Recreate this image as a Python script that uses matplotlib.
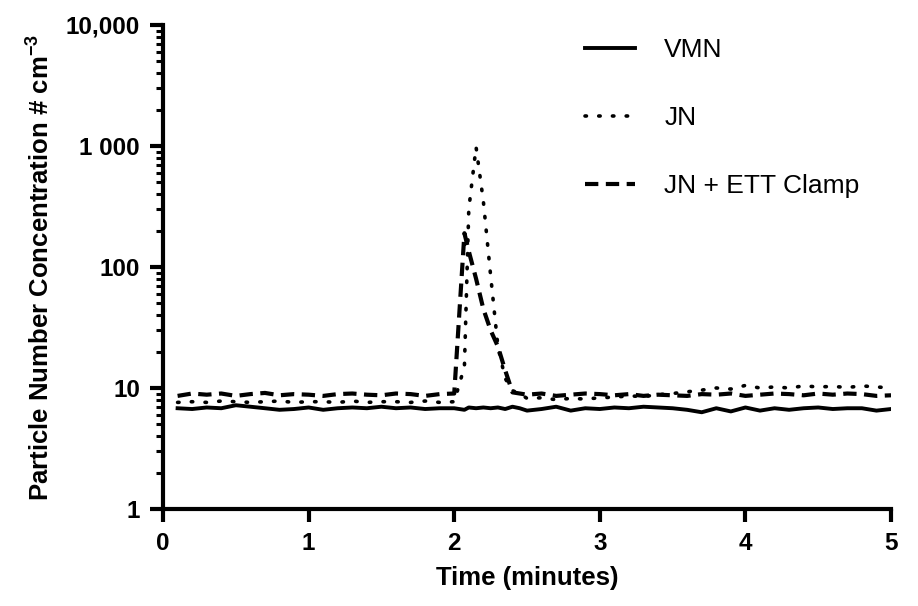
import matplotlib
matplotlib.use("Agg")
import matplotlib.pyplot as plt
from matplotlib.ticker import FixedLocator, NullFormatter

plt.rcParams['font.family'] = ['Liberation Sans', 'DejaVu Sans']
plt.rcParams['mathtext.fontset'] = 'custom'
plt.rcParams['mathtext.rm'] = 'Liberation Sans:bold'
plt.rcParams['mathtext.default'] = 'rm'

# time points (minutes)
time = [0.1, 0.2, 0.3, 0.4, 0.5, 0.6, 0.7, 0.8, 0.9, 1.0,
        1.1, 1.2, 1.3, 1.4, 1.5, 1.6, 1.7, 1.8, 1.9, 2.0,
        2.07, 2.1, 2.15, 2.2, 2.25, 2.3, 2.35, 2.4, 2.45, 2.5,
        2.6, 2.7, 2.8, 2.9, 3.0, 3.1, 3.2, 3.3, 3.4, 3.5,
        3.6, 3.7, 3.8, 3.9, 4.0, 4.1, 4.2, 4.3, 4.4, 4.5,
        4.6, 4.7, 4.8, 4.9, 5.0]

vmn = [6.8, 6.7, 6.9, 6.8, 7.2, 7.0, 6.8, 6.6, 6.7, 6.9,
       6.6, 6.8, 6.9, 6.8, 7.0, 6.8, 6.9, 6.7, 6.8, 6.8,
       6.6, 6.9, 6.8, 6.9, 6.8, 6.9, 6.7, 7.0, 6.8, 6.5,
       6.7, 7.0, 6.5, 6.8, 6.7, 6.9, 6.8, 7.0, 6.9, 6.8,
       6.6, 6.3, 6.8, 6.4, 6.9, 6.5, 6.8, 6.6, 6.8, 6.9,
       6.7, 6.8, 6.8, 6.5, 6.7]

jn = [7.6, 7.7, 7.6, 7.8, 7.7, 7.6, 7.7, 7.8, 7.6, 7.7,
      7.7, 7.6, 7.8, 7.6, 7.7, 7.7, 7.6, 7.8, 7.6, 7.7,
      15, 300, 980, 350, 85, 22, 12, 9.5, 9.0, 8.2,
      8.3, 8.0, 8.2, 8.1, 8.3, 8.4, 8.6, 8.5, 8.8, 9.0,
      9.3, 9.6, 10.0, 9.8, 10.5, 10.0, 10.2, 10.0, 10.4, 10.2,
      10.3, 10.1, 10.4, 10.2, 10.0]

jn_ett = [8.6, 9.0, 8.8, 9.0, 8.6, 8.9, 9.1, 8.7, 8.9, 8.8,
          8.6, 8.9, 9.0, 8.8, 8.7, 9.0, 8.9, 8.6, 8.9, 9.0,
          190, 135, 80, 45, 30, 22, 14, 9.2, 9.0, 8.8,
          9.0, 8.6, 8.8, 9.0, 8.9, 8.7, 8.9, 8.6, 8.8, 8.7,
          8.6, 8.9, 8.8, 9.0, 8.6, 8.8, 9.0, 8.9, 8.7, 9.0,
          8.8, 9.0, 8.9, 8.6, 8.7]

y_ticks = [1, 10, 100, 1000, 10000]
y_labels = ['1', '10', '100', '1 000', '10,000']
y_minor = [m * d for d in [1, 10, 100, 1000] for m in range(2, 10)]

fig = plt.figure(figsize=(9.18, 6.06), dpi=100)
ax = fig.add_axes([0.1776, 0.1601, 0.7930, 0.7987])

ax.plot(time, vmn, color='black', lw=2.8, ls='-', label='VMN')
ax.plot(time, jn, color='black', lw=2.6, ls=(0, (0.4, 3.4)),
        dash_capstyle='round', label='JN')
ax.plot(time, jn_ett, color='black', lw=3.0, ls=(0, (3.2, 1.8)), label='JN + ETT Clamp')

ax.set_yscale('log')
ax.set_ylim(1, 10000)
ax.set_xlim(0, 5)
ax.set_xticks([0, 1, 2, 3, 4, 5])
ax.yaxis.set_major_locator(FixedLocator(y_ticks))
ax.set_yticklabels(y_labels)
ax.yaxis.set_minor_locator(FixedLocator(y_minor))
ax.yaxis.set_minor_formatter(NullFormatter())

for s in ['top', 'right']:
    ax.spines[s].set_visible(False)
for s in ['left', 'bottom']:
    ax.spines[s].set_linewidth(3.0)

ax.tick_params(axis='both', which='major', direction='out', length=9.5, width=3.0,
               labelsize=17.5, pad=7)
ax.tick_params(axis='y', which='minor', direction='out', length=5, width=2.2)
for lab in ax.get_xticklabels() + ax.get_yticklabels():
    lab.set_fontweight('bold')

ax.set_xlabel('Time (minutes)', fontsize=18.5, fontweight='bold', labelpad=8)
ax.set_ylabel(r'Particle Number Concentration # cm$^{-3}$', fontsize=18.5,
              fontweight='bold', labelpad=8)

ax.legend(loc='upper left', frameon=False, fontsize=19, handlelength=1.9,
          handletextpad=1.1, labelspacing=1.66, borderpad=0, borderaxespad=0,
          bbox_to_anchor=(585 / 918, 0.937), bbox_transform=fig.transFigure)

fig.savefig('out.png', dpi=100)
